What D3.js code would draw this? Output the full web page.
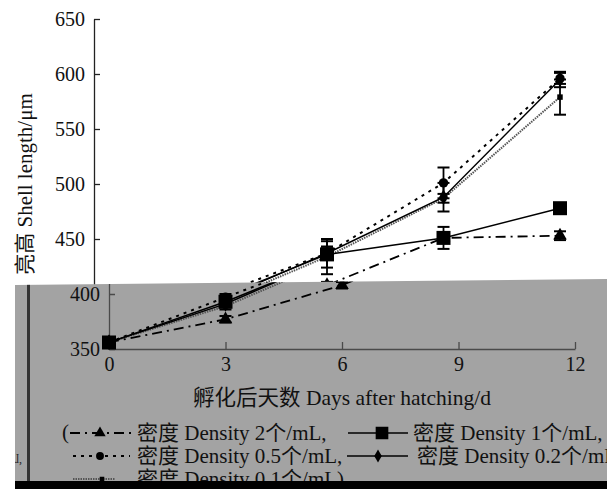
<!DOCTYPE html>
<html><head><meta charset="utf-8">
<script src="https://cdn.jsdelivr.net/npm/d3@7"></script>
<style>body{margin:0;background:#fff}svg{display:block}</style>
</head><body>
<script>
// ---- data ----
const days = [0, 3, 6, 9, 12];
const xTicks = [0, 3, 6, 9, 12];
const yTicks = [350, 400, 450, 500, 550, 600, 650];
const dens2 = [356, 377, 408, 451, 453];
const dens2Err = [2, 3, 3, 3, 4];
const dens1 = [356, 393, 436, 451, 478];
const dens1Err = [2, 4, 12, 10, 2];
const dens05 = [356, 397, 437, 501, 596];
const dens05Err = [2, 3, 6, 14, 5];
const dens02 = [356, 391, 437, 488, 595];
const dens02Err = [2, 3, 6, 13, 7];
const dens01 = [356, 389, 434, 487, 579];
const dens01Err = [2, 3, 16, 4, 16];
const legendLabels = ["密度 Density 2个/mL,", "密度 Density 1个/mL,", "密度 Density 0.5个/mL,", "密度 Density 0.2个/mL)", "密度 Density 0.1个/mL)"];
const yTitle = "亮高 Shell length/μm";
const xTitle = "孵化后天数 Days after hatching/d";

const FONT = "'Liberation Serif','Noto Sans CJK SC',serif";
const W = 613, H = 489;
const svg = d3.select("body").append("svg").attr("width", W).attr("height", H);

const series = [
  {v: dens01, e: dens01Err, dash: "1.5,1", color: "#555", width: 2, sym: d3.symbolSquare, size: 30},
  {v: dens02, e: dens02Err, dash: null, color: "#000", width: 1.5, sym: d3.symbolDiamond, size: 70},
  {v: dens05, e: dens05Err, dash: "3,5", color: "#000", width: 2, sym: d3.symbolCircle, size: 70},
  {v: dens2, e: dens2Err, dash: "10,5,2,5", color: "#000", width: 1.8, sym: d3.symbolTriangle, size: 80},
  {v: dens1, e: dens1Err, dash: null, color: "#000", width: 1.5, sym: d3.symbolSquare, size: 196}
];

function drawChart(g, dx, axisColor) {
  const x = d3.scaleLinear().domain([0, 12]).range([94 + dx, 560 + dx]);
  const y = d3.scaleLinear().domain([350, 650]).range([349, 19]);
  const ya = g.append("g").attr("transform", `translate(${94 + dx},0)`)
    .call(d3.axisLeft(y).tickValues(yTicks).tickSize(-6).tickSizeOuter(0).tickPadding(9).tickFormat(d3.format("d")));
  const xa = g.append("g").attr("transform", `translate(0,349)`)
    .call(d3.axisBottom(x).tickValues(xTicks).tickSize(-7).tickSizeOuter(0).tickPadding(8));
  [ya, xa].forEach(a => {
    a.selectAll("path,line").attr("stroke", axisColor).attr("stroke-width", 1.3);
    a.selectAll("text").attr("font-family", FONT).attr("font-size", 20).attr("fill", "#111");
  });
  g.append("text").attr("transform", `translate(${32 + dx},${184}) rotate(-90)`)
    .attr("text-anchor", "middle").attr("font-family", FONT).attr("font-size", 21).attr("fill", "#111").text(yTitle);
  g.append("text").attr("x", 327 + dx).attr("y", 405).attr("text-anchor", "middle")
    .attr("font-family", FONT).attr("font-size", 21.5).attr("fill", "#111").text(xTitle);
  const line = d3.line().x((d, i) => x(days[i])).y(d => y(d));
  series.forEach(s => {
    g.append("path").datum(s.v).attr("d", line).attr("fill", "none")
      .attr("stroke", s.color).attr("stroke-width", s.width).attr("stroke-dasharray", s.dash);
  });
  series.forEach(s => {
    s.v.forEach((v, i) => {
      const cx = x(days[i]);
      const hi = y(v + s.e[i]), lo = y(v - s.e[i]);
      g.append("line").attr("x1", cx).attr("x2", cx).attr("y1", hi).attr("y2", lo).attr("stroke", "#000").attr("stroke-width", 1.8);
      [hi, lo].forEach(yy => g.append("line").attr("x1", cx - 6).attr("x2", cx + 6).attr("y1", yy).attr("y2", yy).attr("stroke", "#000").attr("stroke-width", 2));
      g.append("path").attr("d", d3.symbol().type(s.sym).size(s.size)()).attr("transform", `translate(${cx},${y(v)})`).attr("fill", "#000");
    });
  });
}

// white (original) layer
drawChart(svg.append("g"), 0, "#222");

// gray shifted overlay
const grayPts = [[15, 285], [607, 279], [607, 482], [15, 482]];
svg.append("clipPath").attr("id", "gclip").append("polygon").attr("points", grayPts.map(p => p.join(",")).join(" "));
svg.append("polygon").attr("points", grayPts.map(p => p.join(",")).join(" ")).attr("fill", "#a3a3a3");
const gg = svg.append("g").attr("clip-path", "url(#gclip)");
drawChart(gg.append("g"), 15, "#4a4a4a");
gg.append("rect").attr("x", 27).attr("y", 270).attr("width", 3).attr("height", 220).attr("fill", "#333");
gg.append("text").attr("x", 15).attr("y", 463).attr("font-family", FONT).attr("font-size", 12).attr("fill", "#222").text("ɺ,");

// legend
const leg = gg.append("g").attr("font-family", FONT).attr("font-size", 21).attr("fill", "#111");
const items = [
  {x1: 70, x2: 132, mx: 100, tx: 137, y: 433, s: series[3], label: legendLabels[0], pre: "("},
  {x1: 348, x2: 408, mx: 382, tx: 413, y: 433, s: series[4], label: legendLabels[1]},
  {x1: 73, x2: 130, mx: 100, tx: 137, y: 456, s: series[2], label: legendLabels[2]},
  {x1: 347, x2: 408, mx: 378, tx: 417, y: 456, s: series[1], label: legendLabels[3]},
  {x1: 73, x2: 115, mx: 102, tx: 137, y: 479, s: series[0], label: legendLabels[4]}
];
items.forEach(it => {
  if (it.pre) leg.append("text").attr("x", 62).attr("y", it.y + 6).text(it.pre);
  leg.append("line").attr("x1", it.x1).attr("x2", it.x2).attr("y1", it.y).attr("y2", it.y)
    .attr("stroke", it.s.color).attr("stroke-width", it.s.width).attr("stroke-dasharray", it.s.dash);
  const sz = it.s.size === 196 ? 160 : it.s.size * 0.7;
  leg.append("path").attr("d", d3.symbol().type(it.s.sym).size(sz)()).attr("transform", `translate(${it.mx},${it.y})`).attr("fill", "#000");
  leg.append("text").attr("x", it.tx).attr("y", it.y + 7).text(it.label);
});

svg.append("rect").attr("x", 15).attr("y", 481).attr("width", 592).attr("height", 8).attr("fill", "#000");
</script>
</body></html>
